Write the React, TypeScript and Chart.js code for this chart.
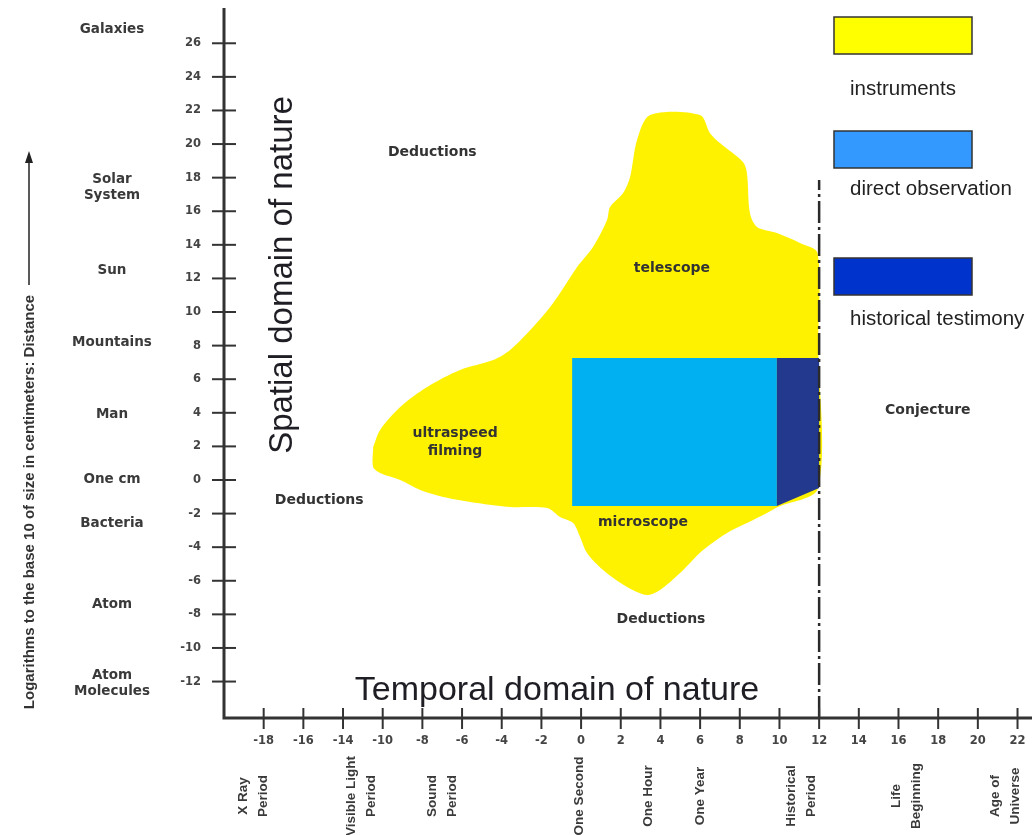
import React, { useEffect, useRef } from 'react';
import { Chart, registerables } from 'chart.js';

Chart.register(...registerables);

// ---- axis ranges ----
const X_MIN = -18;
const X_MAX = 22.73;
const Y_MIN = -14.17;
const Y_MAX = 28.1;

// ---- instruments (yellow) outline, [log10 seconds, log10 cm] ----
const instrumentsX = [
  -10.48, -10.13, -9.12, -7.76, -6.1, -4.43, -3.58, -2.42, -1.56, -1.06, -0.2, 0.6, 1.31, 1.46, 2.12,
  2.47, 2.82, 3.48, 5.99, 6.5, 7.0, 8.16, 8.36, 8.51, 8.87, 9.87, 11.03, 11.92, 11.95, 11.95, 9.92, 9.37,
  8.36, 7.36, 6.15, 4.99, 3.98, 3.32, 2.32, 1.11, 0.3, -0.05, -0.4, -1.06, -1.71, -3.58, -5.24, -6.95,
  -8.11, -9.12, -10.13, -10.48, -10.48,
];
const instrumentsY = [
  1.96, 2.98, 4.35, 5.54, 6.55, 7.14, 7.74, 9.11, 10.3, 11.13, 12.68, 13.87, 15.48, 16.25, 17.08,
  18.04, 20.24, 21.73, 21.73, 20.65, 20.06, 18.93, 18.27, 15.89, 15.06, 14.7, 14.11, 13.51, 8.0, -0.48,
  -1.61, -1.96, -2.56, -3.15, -4.17, -5.54, -6.55, -6.85, -6.37, -5.36, -4.35, -3.39, -2.56, -2.2,
  -1.67, -1.61, -1.37, -1.01, -0.6, 0.0, 0.42, 0.77, 1.96,
];

// ---- direct observation (light blue) ----
const directObsX = [-0.45, 9.87, 9.87, -0.45, -0.45];
const directObsY = [7.26, 7.26, -1.55, -1.55, 7.26];

// ---- historical testimony (dark blue) ----
const historicalX = [9.87, 12.0, 12.0, 9.87, 9.87];
const historicalY = [7.26, 7.26, -0.48, -1.55, 7.26];

// ---- historical boundary (dash-dot) ----
const boundaryX = [12, 12];
const boundaryY = [Y_MIN, 17.86];

// ---- ticks ----
const yTickValues = [-12, -10, -8, -6, -4, -2, 0, 2, 4, 6, 8, 10, 12, 14, 16, 18, 20, 22, 24, 26];
const xTickValues = [-16, -14, -12, -10, -8, -6, -4, -2, 0, 2, 4, 6, 8, 10, 12, 14, 16, 18, 20, 22];
const xTickLabels = ['-18', '-16', '-14', '-10', '-8', '-6', '-4', '-2', '0', '2', '4', '6', '8', '10', '12', '14', '16', '18', '20', '22'];

// ---- category labels ----
const sizeLabels = ['Galaxies', 'Solar\nSystem', 'Sun', 'Mountains', 'Man', 'One cm', 'Bacteria', 'Atom', 'Atom\nMolecules'];
const sizeLabelValues = [26.8, 17.4, 12.5, 8.2, 3.9, 0, -2.6, -7.4, -12.1];

const timeLabels = ['X Ray\nPeriod', 'Visible Light\nPeriod', 'Sound\nPeriod', 'One Second', 'One Hour', 'One Year', 'Historical\nPeriod', 'Life\nBeginning', 'Age of\nUniverse'];
const timeLabelValues = [-16.5, -11.1, -7.0, -0.1, 3.4, 6.0, 11.1, 16.4, 21.4];

// ---- region annotations ----
const regionLabels = ['Deductions', 'Deductions', 'Deductions', 'Conjecture', 'telescope', 'ultraspeed\nfilming', 'microscope'];
const regionX = [-7.5, -13.2, 4.03, 17.48, 4.58, -6.35, 3.12];
const regionY = [19.5, -1.19, -8.27, 4.17, 12.62, 2.26, -2.5];

// ---- legend ----
const legendLabels = ['instruments', 'direct observation', 'historical testimony'];
const legendColors = ['#FFFF00', '#3399FF', '#0033CC'];

const yTitle = 'Logarithms to the base 10 of size in centimeters: Distance';
const spatialTitle = 'Spatial domain of nature';
const temporalTitle = 'Temporal domain of nature';

const toPoints = (xs: number[], ys: number[]) => xs.map((x, i) => ({ x, y: ys[i] }));

function drawLines(ctx: CanvasRenderingContext2D, text: string, cx: number, cy: number, lh: number, rotate: boolean) {
  const lines = text.split('\n');
  ctx.save();
  ctx.translate(cx, cy);
  if (rotate) ctx.rotate(-Math.PI / 2);
  const n = lines.length;
  lines.forEach((l, i) => ctx.fillText(l, 0, (i - (n - 1) / 2) * lh));
  ctx.restore();
}

const decorPlugin = {
  id: 'decor',
  afterDatasetsDraw(chart: any) {
    const { ctx, chartArea } = chart;
    const xs = chart.scales.x;
    const ys = chart.scales.y;
    const x0 = xs.getPixelForValue(X_MIN);
    const yb = ys.getPixelForValue(Y_MIN);
    ctx.save();

    // axes lines
    ctx.strokeStyle = '#333';
    ctx.lineWidth = 3;
    ctx.beginPath();
    ctx.moveTo(x0, chartArea.top);
    ctx.lineTo(x0, yb);
    ctx.lineTo(chartArea.right, yb);
    ctx.stroke();

    // y ticks
    ctx.lineWidth = 2;
    ctx.fillStyle = '#444';
    ctx.font = 'bold 11.5px "DejaVu Sans"';
    ctx.textAlign = 'right';
    ctx.textBaseline = 'middle';
    yTickValues.forEach((v) => {
      const py = ys.getPixelForValue(v);
      ctx.beginPath();
      ctx.moveTo(x0 - 12, py);
      ctx.lineTo(x0 + 12, py);
      ctx.stroke();
      ctx.fillText(String(v), x0 - 23, py);
    });

    // x ticks
    ctx.textAlign = 'center';
    xTickValues.forEach((v, i) => {
      const px = xs.getPixelForValue(v);
      ctx.beginPath();
      ctx.moveTo(px, yb - 10);
      ctx.lineTo(px, yb + 11);
      ctx.stroke();
      ctx.fillText(xTickLabels[i], px, yb + 23);
    });

    // size labels (left)
    ctx.fillStyle = '#3a3a3a';
    ctx.font = 'bold 13.5px "DejaVu Sans"';
    sizeLabels.forEach((t, i) => {
      drawLines(ctx, t, 112, ys.getPixelForValue(sizeLabelValues[i]), 16, false);
    });

    // time labels (bottom, rotated)
    ctx.font = 'bold 13.5px "Liberation Sans"';
    timeLabels.forEach((t, i) => {
      drawLines(ctx, t, xs.getPixelForValue(timeLabelValues[i]), 796, 20, true);
    });

    // region annotations
    ctx.fillStyle = '#333';
    ctx.font = 'bold 14px "DejaVu Sans"';
    regionLabels.forEach((t, i) => {
      drawLines(ctx, t, xs.getPixelForValue(regionX[i]), ys.getPixelForValue(regionY[i]), 18, false);
    });

    // y axis title with arrow
    ctx.fillStyle = '#333';
    ctx.font = 'bold 15px "Liberation Sans"';
    drawLines(ctx, yTitle, 30, 502, 16, true);
    ctx.strokeStyle = '#222';
    ctx.lineWidth = 1.5;
    ctx.beginPath();
    ctx.moveTo(29, 285);
    ctx.lineTo(29, 160);
    ctx.stroke();
    ctx.fillStyle = '#222';
    ctx.beginPath();
    ctx.moveTo(29, 151);
    ctx.lineTo(25, 163);
    ctx.lineTo(33, 163);
    ctx.closePath();
    ctx.fill();

    // big domain titles
    ctx.fillStyle = '#1e1e24';
    ctx.font = '33px "Liberation Sans"';
    drawLines(ctx, spatialTitle, 283, 275, 34, true);
    ctx.font = '34px "Liberation Sans"';
    drawLines(ctx, temporalTitle, 557, 691, 34, false);

    // legend
    legendLabels.forEach((t, i) => {
      const top = [17, 131, 258][i];
      ctx.fillStyle = legendColors[i];
      ctx.fillRect(834, top, 138, 37);
      ctx.strokeStyle = '#333';
      ctx.lineWidth = 1.5;
      ctx.strokeRect(834, top, 138, 37);
      ctx.fillStyle = '#222';
      ctx.font = '20.5px "Liberation Sans"';
      ctx.textAlign = 'left';
      ctx.textBaseline = 'middle';
      ctx.fillText(t, 850, [89, 189, 319][i]);
      ctx.textAlign = 'center';
    });

    ctx.restore();
  },
};

export default function App() {
  const canvasRef = useRef<HTMLCanvasElement | null>(null);

  useEffect(() => {
    if (!canvasRef.current) return;
    const chart = new Chart(canvasRef.current, {
      type: 'scatter',
      data: {
        datasets: [
          {
            label: 'boundary',
            data: toPoints(boundaryX, boundaryY),
            showLine: true,
            borderColor: '#2a2a2a',
            borderWidth: 2.5,
            borderDash: [22, 4, 3, 4],
            pointRadius: 0,
            fill: false,
            order: 1,
          },
          {
            label: 'historical testimony',
            data: toPoints(historicalX, historicalY),
            showLine: true,
            borderWidth: 0,
            borderColor: 'rgba(0,0,0,0)',
            backgroundColor: '#22398E',
            pointRadius: 0,
            fill: 'shape',
            tension: 0,
            order: 2,
          },
          {
            label: 'direct observation',
            data: toPoints(directObsX, directObsY),
            showLine: true,
            borderWidth: 0,
            borderColor: 'rgba(0,0,0,0)',
            backgroundColor: '#00B0F0',
            pointRadius: 0,
            fill: 'shape',
            tension: 0,
            order: 3,
          },
          {
            label: 'instruments',
            data: toPoints(instrumentsX, instrumentsY),
            showLine: true,
            borderWidth: 0,
            borderColor: 'rgba(0,0,0,0)',
            backgroundColor: '#FFF200',
            pointRadius: 0,
            fill: 'shape',
            tension: 0.3,
            order: 4,
          },
        ] as any,
      },
      options: {
        responsive: false,
        animation: false,
        devicePixelRatio: 1,
        layout: { padding: { left: 224, top: 8, right: 0, bottom: 117 } },
        plugins: {
          legend: { display: false },
          tooltip: { enabled: false },
        },
        scales: {
          x: { type: 'linear', min: X_MIN, max: X_MAX, display: false },
          y: { type: 'linear', min: Y_MIN, max: Y_MAX, display: false },
        },
      },
      plugins: [decorPlugin],
    });
    return () => chart.destroy();
  }, []);

  return (
    <div style={{ position: 'fixed', left: 0, top: 0, width: 1032, height: 835, background: '#fff' }}>
      <canvas ref={canvasRef} width={1032} height={835} style={{ display: 'block' }} />
    </div>
  );
}
